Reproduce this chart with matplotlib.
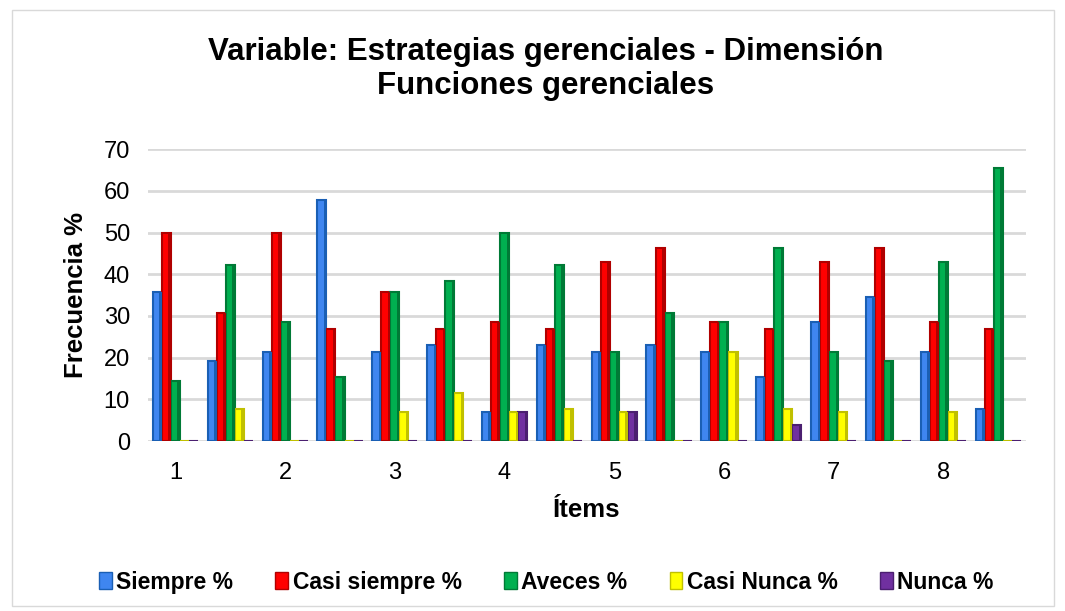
import numpy as np
import matplotlib.pyplot as plt
from matplotlib.patches import Rectangle

plt.rcParams['font.family'] = ['Liberation Sans', 'DejaVu Sans']

# 16 grupos de barras, etiquetas 1..8 en cada segundo grupo
tick_labels = ['1', '2', '3', '4', '5', '6', '7', '8']
series_names = ['Siempre %', 'Casi siempre %', 'Aveces %', 'Casi Nunca %', 'Nunca %']

siempre      = [35.7, 19.2, 21.4, 57.7, 21.4, 23.1,  7.1, 23.1, 21.4, 23.1, 21.4, 15.4, 28.6, 34.6, 21.4,  7.7]
casi_siempre = [50.0, 30.8, 50.0, 26.9, 35.7, 26.9, 28.6, 26.9, 42.9, 46.2, 28.6, 26.9, 42.9, 46.2, 28.6, 26.9]
aveces       = [14.3, 42.3, 28.6, 15.4, 35.7, 38.5, 50.0, 42.3, 21.4, 30.8, 28.6, 46.2, 21.4, 19.2, 42.9, 65.4]
casi_nunca   = [ 0.0,  7.7,  0.0,  0.0,  7.1, 11.5,  7.1,  7.7,  7.1,  0.0, 21.4,  7.7,  7.1,  0.0,  7.1,  0.0]
nunca        = [ 0.0,  0.0,  0.0,  0.0,  0.0,  0.0,  7.1,  0.0,  7.1,  0.0,  0.0,  3.8,  0.0,  0.0,  0.0,  0.0]

face = ['#3f86f0', '#ff0000', '#00b050', '#ffff00', '#7030a0']
side = ['#1a5fb4', '#b00000', '#007a36', '#c0c000', '#4b1f70']

fig = plt.figure(figsize=(10.65, 6.11), dpi=100)
fig.patches.append(Rectangle((0.011, 0.008), 0.979, 0.976, transform=fig.transFigure,
                             fill=False, edgecolor='#d9d9d9', linewidth=1))
ax = fig.add_axes([0.139, 0.278, 0.824, 0.478])

x = np.arange(len(siempre))
w = 0.165
for i, vals in enumerate([siempre, casi_siempre, aveces, casi_nunca, nunca]):
    pos = x - 2.5 * w + i * w
    ax.bar(pos, vals, width=w, color=face[i], edgecolor=side[i], linewidth=1.5,
           align='edge', zorder=3)
    # cara lateral oscura (efecto 3D)
    ax.bar(pos + w * 0.72, vals, width=w * 0.28, color=side[i], linewidth=0,
           align='edge', zorder=4)

ax.set_xlim(-0.5, len(siempre) - 0.5)
ax.set_ylim(0, 70)
ax.set_yticks(range(0, 71, 10))
ax.set_xticks(x[::2])
ax.set_xticklabels(tick_labels)
ax.tick_params(axis='y', length=0, labelsize=17, pad=13)
ax.tick_params(axis='x', length=0, labelsize=17, pad=15)
ax.grid(axis='y', color='#d9d9d9', linewidth=2, zorder=0)
for s in ax.spines.values():
    s.set_visible(False)

ax.set_ylabel('Frecuencia %', fontsize=18.5, fontweight='bold', labelpad=11)
ax.set_xlabel('Ítems', fontsize=18.5, fontweight='bold', labelpad=10)
fig.text(0.512, 0.887, 'Variable: Estrategias gerenciales - Dimensión\nFunciones gerenciales',
         ha='center', va='center', fontsize=22.5, fontweight='bold', linespacing=1.15)

handles = [Rectangle((0, 0), 1, 1, facecolor=face[i], edgecolor=side[i]) for i in range(5)]
fig.legend(handles, series_names, loc='center', bbox_to_anchor=(0.513, 0.047), ncol=5,
           frameon=False, prop={'weight': 'bold', 'size': 16.5}, handlelength=0.55,
           handleheight=0.75, handletextpad=0.2, columnspacing=1.85)

plt.savefig('out.png', dpi=100)
